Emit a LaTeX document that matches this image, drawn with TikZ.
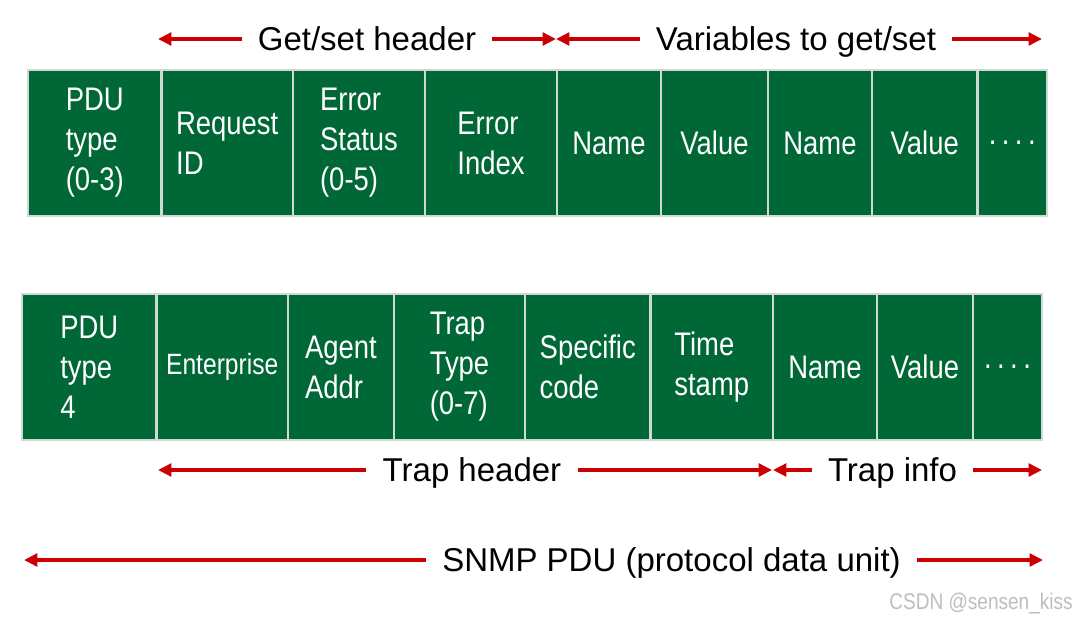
\documentclass[tikz,border=0pt]{standalone}
\usepackage{fontspec}
\setmainfont{Liberation Sans}
\newfontfamily\cellfont[FakeStretch=0.84]{Liberation Sans}
\usetikzlibrary{arrows.meta}
\definecolor{pdugreen}{RGB}{0,103,55}
\definecolor{sepgray}{RGB}{205,218,210}
\definecolor{arrowred}{RGB}{204,0,0}
\definecolor{markgray}{RGB}{190,190,190}

\begin{document}
\begin{tikzpicture}[
        x=0.75pt, y=-0.75pt,
        >={Triangle[length=10pt,width=9.5pt]},
        every node/.style={inner sep=0pt},
        cell/.style={fill=pdugreen, draw=sepgray, line width=2pt, minimum height=109.5pt,
            text=white, align=left, font=\cellfont\fontsize{24.5}{30}\selectfont},
        span/.style={font=\fontsize{24.75}{30}\selectfont, text height=17.8pt, text depth=0pt, inner xsep=12pt},
        bar/.style={->, arrowred, line width=3.2pt}
    ]
    \path[fill=white, use as bounding box] (0,0) rectangle (1077,621);
    % get/set PDU
    \node[cell, minimum width=100.1pt] (pdutype) at (94.75,143) {PDU\\type\\(0-3)};
    \node[cell, minimum width=98.6pt] (reqid) at (227.25,143) {Request\\ID};
    \node[cell, minimum width=99pt] (errstat) at (359,143) {Error\\Status\\(0-5)};
    \node[cell, minimum width=99pt] (erridx) at (491,143) {Error\\Index};
    \node[cell, minimum width=78pt] (nameA) at (609,143) {Name};
    \node[cell, minimum width=80.25pt] (valueA) at (714.5,143) {Value};
    \node[cell, minimum width=78pt] (nameB) at (820,143) {Name};
    \node[cell, minimum width=79.1pt] (valueB) at (924.75,143) {Value};
    \node[cell, minimum width=52.1pt] (moreA) at (1012.25,143) {.\,.\,.\,.};
    % trap PDU
    \node[cell, minimum width=100.9pt] (traptype) at (89.25,367) {PDU\\type\\4};
    \node[cell, minimum width=98.6pt, font=\cellfont\fontsize{22}{26}\selectfont] (enterprise) at (222.25,367) {Enterprise};
    \node[cell, minimum width=79.5pt] (agent) at (341,367) {Agent\\Addr};
    \node[cell, minimum width=98.25pt] (traptp) at (459.5,367) {Trap\\Type\\(0-7)};
    \node[cell, minimum width=94.1pt] (specific) at (587.75,367) {Specific\\code};
    \node[cell, minimum width=91.9pt] (stamp) at (711.75,367) {Time\\stamp};
    \node[cell, minimum width=78pt] (nameC) at (825,367) {Name};
    \node[cell, minimum width=72pt] (valueC) at (925,367) {Value};
    \node[cell, minimum width=51.75pt] (moreB) at (1007.5,367) {.\,.\,.\,.};
    % spans
    \node[span] (getset) at (367,39) {Get/set header};
    \node[span] (vars) at (796,39) {Variables to get/set};
    \node[span] (traphdr) at (472,470) {Trap header};
    \node[span] (trapinfo) at (892.5,470) {Trap info};
    \node[span] (snmp) at (671.5,560) {SNMP PDU (protocol data unit)};
    \coordinate (getsetL) at (158,39);
    \coordinate (getsetR) at (556,39);
    \coordinate (varsL) at (556,39);
    \coordinate (varsR) at (1042,39);
    \coordinate (traphdrL) at (158,470);
    \coordinate (traphdrR) at (772,470);
    \coordinate (trapinfoL) at (773,470);
    \coordinate (trapinfoR) at (1042,470);
    \coordinate (snmpL) at (24,560);
    \coordinate (snmpR) at (1043,560);
    \draw[bar] (getset.west) -- (getsetL);
    \draw[bar] (getset.east) -- (getsetR);
    \draw[bar] (vars.west) -- (varsL);
    \draw[bar] (vars.east) -- (varsR);
    \draw[bar] (traphdr.west) -- (traphdrL);
    \draw[bar] (traphdr.east) -- (traphdrR);
    \draw[bar] (trapinfo.west) -- (trapinfoL);
    \draw[bar] (trapinfo.east) -- (trapinfoR);
    \draw[bar] (snmp.west) -- (snmpL);
    \draw[bar] (snmp.east) -- (snmpR);
    \node[font=\cellfont\fontsize{17}{20}\selectfont, text=markgray, anchor=east] (mark) at (1073,604) {CSDN @sensen\_kiss};
\end{tikzpicture}
\end{document}
